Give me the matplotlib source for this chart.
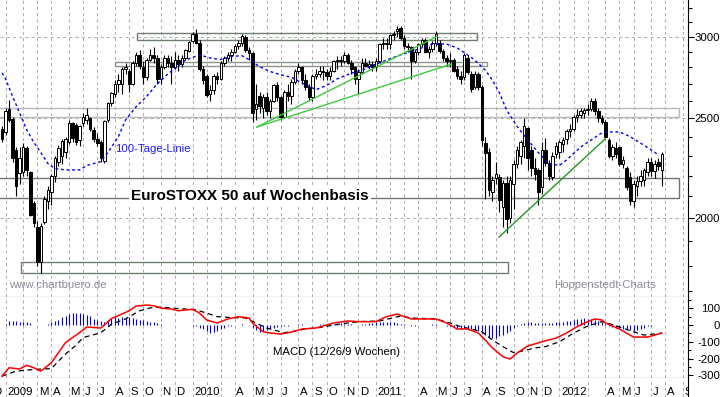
import matplotlib
matplotlib.use('Agg')
import matplotlib.pyplot as plt
import matplotlib.dates as mdates
from matplotlib.patches import Rectangle
import numpy as np
import pandas as pd

plt.rcParams['font.family'] = ['Liberation Sans', 'DejaVu Sans']

# weekly candles, Dec 2008 - Jul 2012
weeks = pd.date_range('2008-12-24', periods=188, freq='7D')

opens = [2440, 2425, 2555, 2495, 2330, 2215, 2220, 2340, 2220, 2070, 1963, 1814,
         1985, 2080, 2120, 2200, 2270, 2300, 2320, 2372, 2475, 2465, 2380, 2475,
         2490, 2500, 2436, 2385, 2370, 2275, 2490, 2585, 2640, 2700, 2700, 2790,
         2780, 2700, 2830, 2880, 2800, 2740, 2850, 2880, 2860, 2730, 2800, 2860,
         2830, 2800, 2850, 2820, 2860, 2905, 2970, 3020, 2960, 2790, 2750, 2640,
         2660, 2750, 2730, 2830, 2860, 2880, 2900, 2940, 2960, 3000, 2910, 2890,
         2550, 2630, 2560, 2620, 2540, 2600, 2690, 2620, 2510, 2650, 2630, 2710,
         2780, 2800, 2720, 2680, 2620, 2750, 2760, 2780, 2770, 2750, 2780, 2840,
         2850, 2840, 2880, 2830, 2800, 2730, 2770, 2830, 2810, 2820, 2800, 2840,
         2950, 2960, 2950, 3010, 3040, 3060, 2990, 2940, 2930, 2840, 2900, 2950,
         2980, 2900, 2920, 2955, 2960, 2905, 2860, 2840, 2850, 2790, 2750, 2740,
         2860, 2760, 2680, 2760, 2680, 2365, 2320, 2120, 2190, 2195, 2050, 2165,
         2000, 2160, 2260, 2300, 2350, 2445, 2330, 2240, 2228, 2145, 2330, 2265,
         2195, 2310, 2320, 2360, 2385, 2430, 2440, 2510, 2520, 2530, 2545, 2550,
         2600, 2540, 2500, 2480, 2380, 2300, 2340, 2345, 2260, 2240, 2195, 2080,
         2150, 2175, 2180, 2220, 2270, 2225, 2270, 2228]
highs = [2460, 2560, 2605, 2505, 2345, 2345, 2365, 2350, 2225, 2080, 1990, 1980,
         2100, 2150, 2210, 2300, 2355, 2385, 2400, 2490, 2480, 2475, 2465, 2530,
         2560, 2510, 2450, 2420, 2380, 2490, 2590, 2650, 2720, 2760, 2800, 2830,
         2790, 2840, 2900, 2910, 2840, 2860, 2920, 2930, 2880, 2820, 2880, 2880,
         2870, 2900, 2880, 2880, 2920, 2970, 3030, 3050, 2980, 2810, 2760, 2690,
         2760, 2770, 2840, 2870, 2900, 2920, 2950, 2980, 3020, 3010, 2930, 2900,
         2700, 2650, 2640, 2650, 2610, 2700, 2710, 2630, 2660, 2700, 2730, 2790,
         2830, 2810, 2760, 2700, 2760, 2790, 2810, 2810, 2790, 2800, 2850, 2870,
         2870, 2900, 2890, 2850, 2810, 2790, 2860, 2860, 2850, 2840, 2860, 2960,
         2990, 2990, 3020, 3040, 3070, 3070, 3010, 2960, 2940, 2910, 2960, 2990,
         2990, 2940, 2970, 3040, 2980, 2920, 2880, 2890, 2860, 2810, 2780, 2890,
         2880, 2780, 2780, 2770, 2690, 2400, 2340, 2200, 2270, 2210, 2180, 2200,
         2200, 2280, 2350, 2380, 2500, 2450, 2350, 2290, 2240, 2370, 2390, 2280,
         2320, 2370, 2380, 2400, 2440, 2470, 2520, 2550, 2560, 2560, 2580, 2615,
         2615, 2560, 2520, 2490, 2390, 2360, 2370, 2350, 2300, 2250, 2220, 2180,
         2200, 2230, 2240, 2290, 2290, 2280, 2290, 2320]
lows = [2370, 2410, 2480, 2270, 2100, 2160, 2200, 2200, 2010, 1960, 1800, 1770,
        1975, 2040, 2060, 2170, 2250, 2260, 2290, 2360, 2370, 2355, 2350, 2460,
        2470, 2430, 2370, 2350, 2270, 2265, 2480, 2570, 2620, 2650, 2640, 2760,
        2650, 2690, 2810, 2790, 2700, 2720, 2840, 2830, 2700, 2700, 2790, 2800,
        2700, 2790, 2780, 2800, 2850, 2900, 2960, 2950, 2780, 2700, 2620, 2600,
        2640, 2700, 2720, 2810, 2840, 2840, 2890, 2920, 2940, 2900, 2850, 2480,
        2490, 2530, 2500, 2520, 2500, 2590, 2600, 2490, 2500, 2600, 2580, 2700,
        2760, 2700, 2660, 2600, 2600, 2730, 2740, 2720, 2720, 2720, 2770, 2790,
        2810, 2830, 2820, 2760, 2700, 2640, 2760, 2800, 2790, 2780, 2780, 2830,
        2920, 2920, 2920, 2980, 3000, 2980, 2920, 2900, 2730, 2830, 2880, 2930,
        2890, 2860, 2900, 2940, 2890, 2840, 2810, 2800, 2770, 2730, 2700, 2720,
        2760, 2650, 2670, 2660, 2350, 2090, 2100, 2080, 2160, 2030, 1960, 1935,
        1980, 2040, 2240, 2260, 2290, 2230, 2200, 2180, 2060, 2110, 2250, 2180,
        2180, 2290, 2290, 2320, 2360, 2400, 2430, 2480, 2500, 2500, 2520, 2540,
        2520, 2480, 2470, 2390, 2290, 2280, 2290, 2250, 2240, 2130, 2060, 2050,
        2100, 2150, 2150, 2200, 2200, 2190, 2230, 2150]
closes = [2385, 2540, 2490, 2290, 2150, 2290, 2345, 2228, 2015, 1980, 1814, 1968,
          2090, 2130, 2200, 2290, 2340, 2375, 2385, 2475, 2390, 2370, 2455, 2510,
          2520, 2440, 2385, 2365, 2290, 2487, 2585, 2645, 2700, 2720, 2790, 2800,
          2700, 2830, 2880, 2810, 2740, 2850, 2880, 2860, 2730, 2800, 2860, 2830,
          2800, 2850, 2820, 2860, 2910, 2966, 3017, 2960, 2790, 2720, 2635, 2660,
          2750, 2730, 2830, 2860, 2880, 2900, 2940, 2960, 3005, 2910, 2890, 2530,
          2580, 2570, 2620, 2540, 2600, 2690, 2620, 2510, 2650, 2630, 2710, 2780,
          2800, 2720, 2680, 2620, 2750, 2760, 2780, 2770, 2750, 2780, 2840, 2850,
          2840, 2880, 2830, 2790, 2730, 2770, 2830, 2810, 2820, 2800, 2840, 2950,
          2960, 2950, 3010, 3020, 3050, 2990, 2940, 2930, 2840, 2900, 2950, 2980,
          2900, 2920, 2955, 3020, 2905, 2860, 2840, 2850, 2780, 2750, 2730, 2880,
          2770, 2670, 2760, 2680, 2380, 2315, 2130, 2180, 2210, 2083, 2165, 1995,
          2180, 2260, 2330, 2370, 2460, 2290, 2240, 2210, 2120, 2330, 2265, 2200,
          2300, 2350, 2370, 2380, 2430, 2440, 2510, 2520, 2540, 2545, 2550, 2600,
          2540, 2500, 2480, 2400, 2300, 2345, 2310, 2260, 2280, 2143, 2080, 2160,
          2175, 2200, 2228, 2270, 2225, 2260, 2250, 2310]

# 100-Tage-Linie, read at some weeks
ma_week = [0, 1, 3, 5, 7, 9, 11, 13, 15, 18, 22, 24, 28, 30, 33, 35, 38, 41, 44, 47,
           50, 52, 56, 59, 62, 65, 68, 70, 73, 76, 79, 82, 85, 89, 92, 95, 99, 102,
           107, 113, 119, 122, 126, 129, 131, 134, 137, 139, 141, 143, 146, 149, 152,
           155, 158, 160, 164, 167, 170, 172, 175, 178, 181, 184, 186]
ma_value = [2766, 2730, 2625, 2530, 2436, 2370, 2316, 2260, 2235, 2228, 2228, 2250,
            2270, 2316, 2400, 2490, 2565, 2625, 2700, 2760, 2810, 2847, 2880, 2860,
            2850, 2870, 2875, 2850, 2805, 2775, 2755, 2740, 2705, 2665, 2690, 2730,
            2765, 2783, 2830, 2880, 2925, 2950, 2950, 2925, 2895, 2847, 2783, 2722,
            2645, 2547, 2455, 2382, 2316, 2260, 2250, 2278, 2345, 2382, 2420, 2425,
            2425, 2400, 2365, 2330, 2305]

# MACD (12/26/9)
macd_week = [0, 2, 5, 7, 9, 11, 14, 16, 18, 22, 24, 28, 31, 36, 38, 41, 43, 45,
             48, 50, 54, 56, 58, 61, 64, 67, 70, 71, 74, 76, 79, 82, 85, 89, 94, 98,
             101, 106, 109, 112, 116, 123, 126, 129, 132, 135, 137, 139, 142, 144, 146,
             149, 151, 153, 157, 160, 163, 166, 168, 170, 171, 175, 179, 183, 185, 187]
macd_value = [-305, -255, -262, -240, -255, -275, -225, -165, -105, -45, -12, -18,
              38, 84, 113, 119, 115, 101, 95, 85, 94, 71, 30, 12, 36, 50, 42,
              12, -40, -48, -54, -42, -24, -18, 12, 24, 20, 20, 50, 65, 36, 36, 12,
              -24, -24, -48, -90, -137, -189, -203, -167, -125, -113, -100, -78, -48,
              -10, 20, 36, 30, 12, -24, -72, -72, -60, -48]
signal_week = [0, 4, 9, 14, 16, 18, 21, 23, 28, 31, 35, 39, 42, 45, 48, 52, 55, 58,
               61, 65, 69, 72, 75, 80, 82, 86, 91, 94, 98, 101, 107, 113, 116, 123, 127,
               130, 133, 136, 139, 142, 145, 148, 151, 154, 158, 162, 166, 170, 171,
               175, 179, 182, 185, 187]
signal_value = [-305, -275, -265, -260, -215, -173, -120, -75, -46, 5, 36, 85, 102,
                107, 101, 95, 90, 71, 50, 44, 42, 12, -18, -46, -40, -24, -12, 0, 12,
                20, 24, 54, 42, 36, 12, -10, -24, -40, -90, -129, -165, -153, -137,
                -129, -100, -48, -6, 20, 16, -12, -40, -60, -54, -48]
hist = [0, 5, 25, 25, 22, 20, 18, 15, 12, 3, 0, -2, 0, 5,
        15, 22, 32, 45, 55, 65, 73, 73, 72, 65, 60, 52, 36, 30, 26, 20, 32, 40, 46, 40,
        46, 46, 45, 40, 36, 32, 28, 24, 20, 15, 10, 5,
        0, -2, 2, 3, 2, 0, -2, 0, -3, -8, -15, -25, -38, -45, -40, -35, -25, -15, -8, -3,
        0, 2, 5, 3,
        0, -15, -30, -40, -38, -32, -25, -18, -12, -8, -5, -3, 0, 2, 5, 5, 3, 0, 0,
        3, 5, 5, 5, 6, 8, 10, 10, 8, 6, 5, 3, 3, 5, 8, 10, 12, 15, 18, 20, 18, 15, 15,
        12, 8, 5, 0, -5, -3, 0, 2, 3, 3, 5, 4, 2, 0,
        -3, -8, -12, -18, -22, -20, -18, -22, -28, -35, -48, -62, -72, -78, -75, -68,
        -58, -48, -35, -20, -5,
        5, 12, 15, 15, 12, 10, 12, 12, 12, 14, 15, 18, 20, 22, 25, 30, 35, 38, 40, 38,
        35, 30, 22, 15, 5,
        -3, -10, -15, -20, -22, -28, -32, -35, -30, -22, -15, -8, -3, 0, 2, 2]

# marked zones (start, end, low, high)
box_start = ['2009-09-17', '2009-08-05', '2008-12-01', '2008-12-01', '2009-01-30']
box_end = ['2011-07-24', '2011-08-13', '2012-08-28', '2012-08-28', '2011-09-24']
box_low = [2977, 2812, 2508, 2091, 1770]
box_high = [3027, 2836, 2557, 2190, 1814]
box_color = ['#6f7f6f', '#8a968a', '#b8b8b8', '#737373', '#6f7f6f']

# trend lines
trend_start = ['2010-05-14', '2010-05-14', '2011-09-06']
trend_end = ['2011-05-06', '2011-06-04', '2012-04-03']
trend_from = [2452, 2452, 1918]
trend_to = [3001, 2822, 2386]
trend_color = ['#3ccc3c', '#3ccc3c', '#1f9a1f']

month_labels = {2008: ['', '', '', '', '', '', '', '', '', '', '', 'D'],
                2009: ['2009', '', 'M', 'A', 'M', 'J', 'J', 'A', 'S', 'O', 'N', 'D'],
                2010: ['2010', '', '', 'A', 'M', 'J', 'J', 'A', 'S', 'O', 'N', 'D'],
                2011: ['2011', '', '', 'A', 'M', 'J', 'J', 'A', 'S', 'O', 'N', 'D'],
                2012: ['2012', '', '', 'A', 'M', 'J', 'J', 'A', 'S', '', '', '']}

W, H = 723, 397
fig = plt.figure(figsize=(W / 100, H / 100), dpi=100)
ax = fig.add_axes([0, 100 / H, 688 / W, 297 / H])
ax2 = fig.add_axes([0, 19 / H, 688 / W, 81 / H])
ax3 = fig.add_axes([0, 0, 688 / W, 19 / H])

x = mdates.date2num(weeks)
o, hi, lo, c = (np.array(v, dtype=float) for v in (opens, highs, lows, closes))
x0, x1 = mdates.date2num(pd.Timestamp('2008-12-20')), mdates.date2num(pd.Timestamp('2012-09-15'))

# month grid at the week of the first trading day (1 Jan / 1 May closed)
grid_x = []
for yr in range(2008, 2013):
    for m in range(1, 13):
        d = pd.Timestamp(yr, m, 2 if m in (1, 5) else 1)
        d = d + pd.offsets.BDay(0)
        wed = d - pd.Timedelta(days=d.weekday()) + pd.Timedelta(days=2)
        grid_x.append((mdates.date2num(wed), month_labels[yr][m - 1]))

grid_kw = dict(color='#b4aab8', lw=0.75, ls=(0, (3, 3)), zorder=0)
for a in (ax, ax2, ax3):
    for gx, _ in grid_x:
        a.axvline(gx, **grid_kw)
    a.set_xlim(x0, x1)
    a.set_xticks([])
    for s in ('top', 'left'):
        a.spines[s].set_visible(False)
    a.spines['right'].set_color('black')
    a.spines['bottom'].set_color('black')

# main panel
ax.set_yscale('log')
ax.set_ylim(1678, 3255)
for lvl in (2000, 2500, 3000):
    ax.axhline(lvl, color='#a8b4a8', lw=0.75, ls=(0, (3, 3)), zorder=0)

for i in range(len(box_low)):
    s, e = mdates.date2num(pd.Timestamp(box_start[i])), mdates.date2num(pd.Timestamp(box_end[i]))
    ax.add_patch(Rectangle((s, box_low[i]), e - s, box_high[i] - box_low[i],
                           fill=False, ec=box_color[i], lw=1, zorder=1))

ax.vlines(x, lo, hi, color='black', lw=0.8, zorder=2)
up = c >= o
ax.bar(x[up], c[up] - o[up], bottom=o[up], width=5, color='white', edgecolor='black', lw=0.7, zorder=3)
ax.bar(x[~up], o[~up] - c[~up], bottom=c[~up], width=5, color='black', edgecolor='black', lw=0.7, zorder=3)

ax.plot(x[ma_week], ma_value, color='#0000ff', lw=1, ls=(0, (2, 2)), zorder=4)
for i in range(len(trend_from)):
    ax.plot(mdates.date2num([pd.Timestamp(trend_start[i]), pd.Timestamp(trend_end[i])]),
            [trend_from[i], trend_to[i]], color=trend_color[i], lw=1, zorder=4)

ax.yaxis.tick_right()
ax.set_yticks([2000, 2500, 3000])
ax.set_yticklabels(['2000', '2500', '3000'])
ax.set_yticks([v for v in range(1700, 3300, 100) if v not in (2000, 2500, 3000)], minor=True)
ax.yaxis.set_minor_formatter(plt.NullFormatter())
ax.tick_params(axis='y', which='major', direction='out', length=4.3, width=0.8, pad=18.7, labelsize=8.2)
ax.tick_params(axis='y', which='minor', direction='out', length=2.6, width=0.8)
for t in ax.get_yticklabels():
    t.set_ha('right')

ax.text(0.1672, 0.4983, '100-Tage-Linie', transform=ax.transAxes, color='#1a1aff',
        fontsize=8.2, va='center', ha='left', zorder=5)
ax.text(0.1904, 0.3384, 'EuroSTOXX 50 auf Wochenbasis', transform=ax.transAxes,
        fontsize=11, fontweight='bold', va='center', ha='left', zorder=5,
        bbox=dict(facecolor='white', edgecolor='none', pad=1.5))
ax.text(0.013, 0.0404, 'www.chartbuero.de', transform=ax.transAxes, color='#8c8c9c',
        fontsize=8.2, va='center', ha='left')
ax.text(0.805, 0.0404, 'Hoppenstedt-Charts', transform=ax.transAxes, color='#8c8c9c',
        fontsize=8.2, va='center', ha='left')

# MACD panel
ax2.set_ylim(-316, 167)
ax2.vlines(x, 0, hist, color='#0000ff', lw=0.8, zorder=2)
ax2.plot(x[signal_week], signal_value, color='black', lw=0.9, ls=(0, (4, 3)), zorder=3)
ax2.plot(x[macd_week], macd_value, color='#ff0000', lw=1.1, zorder=4)
ax2.yaxis.tick_right()
ax2.set_yticks([100, 0, -100, -200, -300])
ax2.set_yticklabels(['100', '0', '-100', '-200', '-300'])
ax2.set_yticks([150, 50, -50, -150, -250], minor=True)
ax2.yaxis.set_minor_formatter(plt.NullFormatter())
ax2.tick_params(axis='y', which='major', direction='out', length=3.6, width=0.8, pad=19.4, labelsize=8.2)
ax2.tick_params(axis='y', which='minor', direction='out', length=2.2, width=0.8)
for t in ax2.get_yticklabels():
    t.set_ha('right')
ax2.text(0.397, 0.325, 'MACD (12/26/9 Wochen)', transform=ax2.transAxes,
         fontsize=8.2, va='center', ha='left')

# month strip
ax3.set_ylim(0, 1)
ax3.set_yticks([])
ax3.spines['bottom'].set_visible(False)
for gx, lab in grid_x:
    if lab:
        ax3.text(gx + 3, 0.08, lab, fontsize=8.2, va='baseline', ha='left', clip_on=True)

fig.savefig('out.png', dpi=100)
